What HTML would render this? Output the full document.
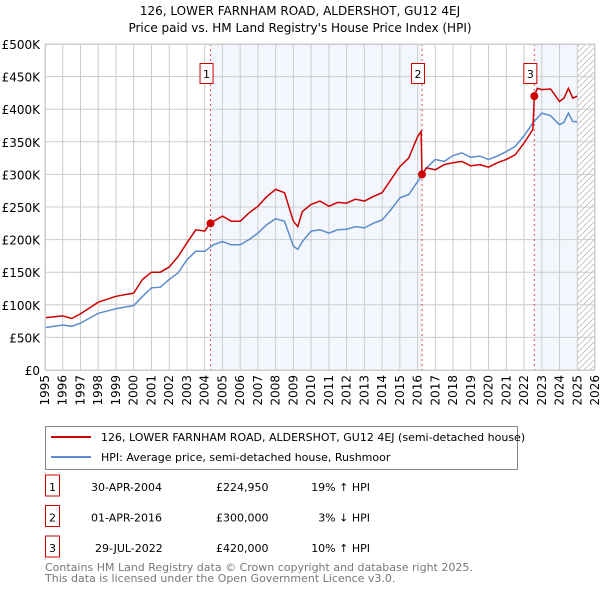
<!DOCTYPE html>
<html><head><meta charset="utf-8"><style>
body{margin:0;background:#fff;font-family:"Liberation Sans","DejaVu Sans",sans-serif;}
svg text{font-family:"DejaVu Sans","Liberation Sans",sans-serif;}
</style></head><body>
<svg id="c" width="600" height="590" xmlns="http://www.w3.org/2000/svg">
<text x="300" y="15" font-size="12" text-anchor="middle">126, LOWER FARNHAM ROAD, ALDERSHOT, GU12 4EJ</text>
<text x="300" y="32" font-size="12" text-anchor="middle">Price paid vs. HM Land Registry's House Price Index (HPI)</text>
<g id="plot"></g>
<rect x="45.5" y="426.5" width="472" height="43" fill="#fff" stroke="#888"/>
<line x1="51" y1="437" x2="91" y2="437" stroke="#cc0000" stroke-width="2"/>
<text x="101" y="441" font-size="11">126, LOWER FARNHAM ROAD, ALDERSHOT, GU12 4EJ (semi-detached house)</text>
<line x1="51" y1="457" x2="91" y2="457" stroke="#5b8ccc" stroke-width="2"/>
<text x="101" y="461" font-size="11">HPI: Average price, semi-detached house, Rushmoor</text>
<g font-size="11" id="tbl"></g>
<text x="45" y="571" font-size="11" fill="#777">Contains HM Land Registry data © Crown copyright and database right 2025.</text>
<text x="45" y="582" font-size="11" fill="#777">This data is licensed under the Open Government Licence v3.0.</text>
</svg>
<script>
const hpiYears=[1995,1996,1996.5,1997,1998,1999,2000,2000.5,2001,2001.5,2002,2002.5,2003,2003.5,2004,2004.5,2005,2005.5,2006,2006.5,2007,2007.5,2008,2008.5,2009,2009.25,2009.5,2010,2010.5,2011,2011.5,2012,2012.5,2013,2013.5,2014,2014.5,2015,2015.5,2016,2016.5,2017,2017.5,2018,2018.5,2019,2019.5,2020,2020.5,2021,2021.5,2022,2022.5,2023,2023.5,2024,2024.25,2024.5,2024.75,2025];
const hpiValues=[65,69,67,72,87,94,99,113,126,127,139,149,169,182,182,192,197,192,192,200,210,223,232,228,190,185,197,213,215,210,215,216,220,218,225,230,246,264,269,289,310,323,320,329,333,326,328,323,328,335,343,359,379,394,390,376,380,394,381,381];
const priceYears=[1995,1996,1996.5,1997,1998,1999,2000,2000.5,2001,2001.5,2002,2002.5,2003,2003.5,2004,2004.33,2004.5,2005,2005.5,2006,2006.5,2007,2007.5,2008,2008.5,2009,2009.25,2009.5,2010,2010.5,2011,2011.5,2012,2012.5,2013,2013.5,2014,2014.5,2015,2015.5,2016,2016.2,2016.25,2016.5,2017,2017.5,2018,2018.5,2019,2019.5,2020,2020.5,2021,2021.5,2022,2022.5,2022.58,2022.75,2023,2023.5,2024,2024.25,2024.5,2024.75,2025];
const priceValues=[80,83,79,86,104,113,118,139,150,150,158,174,195,215,213,226,228,236,228,228,241,251,266,277,272,228,220,243,254,259,251,257,256,262,259,266,272,292,312,325,358,366,300,310,307,315,318,320,313,315,311,318,323,330,348,369,420,432,430,431,412,417,432,417,420];
const saleYears=[2004.33,2016.25,2022.58];
const saleValues=[224.95,300,420];
const saleLabels=["1","2","3"];
const yTicks=[0,50,100,150,200,250,300,350,400,450,500];
const yTickLabels=["£0","£50K","£100K","£150K","£200K","£250K","£300K","£350K","£400K","£450K","£500K"];
const xTicks=[1995,1996,1997,1998,1999,2000,2001,2002,2003,2004,2005,2006,2007,2008,2009,2010,2011,2012,2013,2014,2015,2016,2017,2018,2019,2020,2021,2022,2023,2024,2025,2026];
const tableDates=["30-APR-2004","01-APR-2016","29-JUL-2022"];
const tablePrices=["£224,950","£300,000","£420,000"];
const tableHpi=["19% ↑ HPI","3% ↓ HPI","10% ↑ HPI"];

const NS="http://www.w3.org/2000/svg";
const L=45,R=595,T=44,B=370;
const xs=y=>L+(y-1995)/(2026-1995)*(R-L);
const ys=v=>B-v/500*(B-T);
const g=document.getElementById('plot');
function mk(tag,at,parent){const e=document.createElementNS(NS,tag);for(const k in at)e.setAttribute(k,at[k]);(parent||g).appendChild(e);return e;}
let e;
e=mk('rect',{x:xs(saleYears[0]),y:T,width:xs(saleYears[1])-xs(saleYears[0]),height:B-T,fill:'#eef3fc',opacity:0.7});


e=mk('rect',{x:xs(saleYears[2]),y:T,width:xs(2025)-xs(saleYears[2]),height:B-T,fill:'#eef3fc',opacity:0.7});


const defs=mk('defs',{});
const pat=mk('pattern',{id:'hatch',width:6,height:6,patternUnits:'userSpaceOnUse'},defs);
mk('path',{d:'M0,6 L6,0',stroke:'#bbb','stroke-width':0.8},pat);
e=mk('rect',{x:xs(2025),y:T,width:R-xs(2025),height:B-T,fill:'url(#hatch)'});


yTicks.forEach((v,i)=>{
 e=mk('line',{x1:L,x2:R,y1:ys(v),y2:ys(v),stroke:'#ccc','stroke-width':1});
 
 
 e=mk('text',{x:L-5,y:ys(v)+5,'font-size':12,'text-anchor':'end'});e.textContent=yTickLabels[i];
 
 
});
xTicks.forEach(yr=>{
 e=mk('line',{x1:xs(yr),x2:xs(yr),y1:T,y2:B,stroke:'#ccc','stroke-width':1});
 
 
 e=mk('text',{x:xs(yr)+4,y:B+5,'font-size':12,'text-anchor':'end',transform:`rotate(-90 ${xs(yr)+4} ${B+5})`});e.textContent=yr;
 
 
});
saleYears.forEach((yr,i)=>{
 e=mk('line',{x1:xs(yr),x2:xs(yr),y1:T,y2:B,stroke:'#e05050','stroke-width':1,'stroke-dasharray':'2,3'});
 
 
});
function line(xa,va,col,name){
 const d=xa.map((x,i)=>(i?'L':'M')+xs(x).toFixed(1)+','+ys(va[i]).toFixed(1)).join('');
 e=mk('path',{d,fill:'none',stroke:col,'stroke-width':1.5});
 
 
}
line(hpiYears,hpiValues,'#5b8ccc','hpi-line');
line(priceYears,priceValues,'#cc0000','price-paid-line');
saleYears.forEach((yr,i)=>{
 e=mk('circle',{cx:xs(yr),cy:ys(saleValues[i]),r:4,fill:'#cc0000'});
 
 
 const bx=xs(yr)-11;
 e=mk('rect',{x:bx+0.5,y:63.5,width:13,height:20,fill:'#fff',stroke:'#cc0000'});
 
 
 e=mk('text',{x:bx+7,y:78,'font-size':11,'text-anchor':'middle'});e.textContent=saleLabels[i];
 
 
});
mk('rect',{x:L+0.5,y:T+0.5,width:R-L-1,height:B-T,fill:'none',stroke:'#ccc'});
const tb=document.getElementById('tbl');
saleLabels.forEach((s,i)=>{
 const y=491+i*30.5;
 e=mk('rect',{x:45.5,y:y-16,width:14,height:21,fill:'#fff',stroke:'#cc0000'},tb);
 
 
 e=mk('text',{x:52.5,y:y,'text-anchor':'middle'},tb);e.textContent=s;
 
 
 e=mk('text',{x:i==2?95:91,y:y},tb);e.textContent=tableDates[i];
 
 
 e=mk('text',{x:216,y:y},tb);e.textContent=tablePrices[i];
 
 
 e=mk('text',{x:370,y:y,'text-anchor':'end'},tb);e.textContent=tableHpi[i];
 
 
});
</script>
</body></html>
